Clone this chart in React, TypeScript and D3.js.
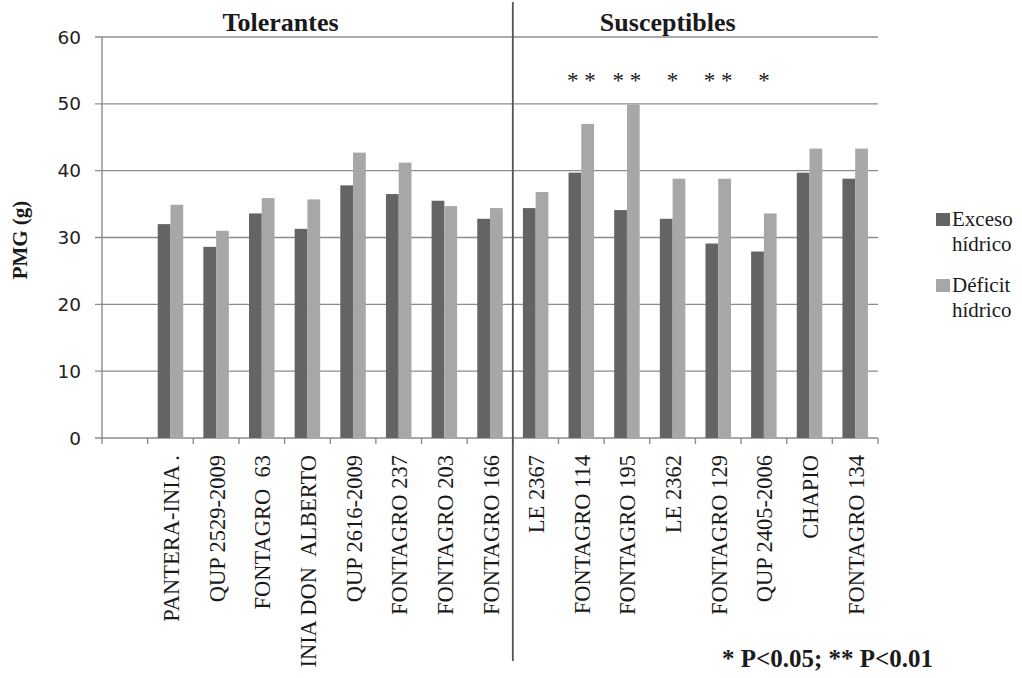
import React from "react";
import * as d3 from "d3";

const categories = [
  "PANTERA-INIA .",
  "QUP 2529-2009",
  "FONTAGRO  63",
  "INIA DON  ALBERTO",
  "QUP 2616-2009",
  "FONTAGRO 237",
  "FONTAGRO 203",
  "FONTAGRO 166",
  "LE 2367",
  "FONTAGRO 114",
  "FONTAGRO 195",
  "LE 2362",
  "FONTAGRO 129",
  "QUP 2405-2006",
  "CHAPIO",
  "FONTAGRO 134",
];
const excesoHidrico = [32.0, 28.6, 33.6, 31.3, 37.8, 36.5, 35.5, 32.8, 34.4, 39.7, 34.1, 32.8, 29.1, 27.9, 39.7, 38.8];
const deficitHidrico = [34.9, 31.0, 35.9, 35.7, 42.7, 41.2, 34.7, 34.4, 36.8, 47.0, 49.9, 38.8, 38.8, 33.6, 43.3, 43.3];
const yTicks = [0, 10, 20, 30, 40, 50, 60];
const significance = [
  { cat: "FONTAGRO 114", text: "* *" },
  { cat: "FONTAGRO 195", text: "* *" },
  { cat: "LE 2362", text: "*" },
  { cat: "FONTAGRO 129", text: "* *" },
  { cat: "QUP 2405-2006", text: "*" },
];
const groups = [
  { name: "Tolerantes", anchor: "INIA DON  ALBERTO" },
  { name: "Susceptibles", anchor: "LE 2362" },
];
const seriesNames = ["Exceso hídrico", "Déficit hídrico"];

const W = 1022;
const H = 678;
const left = 102;
const right = 878;
const top = 37;
const bottom = 438;
const DARK = "#646467";
const LIGHT = "#a7a7a9";
const GRID = "#8c8c8c";
const serif = "'Liberation Serif', 'Times New Roman', serif";
const titleOffsets = [-4, 18];

export default function App() {
  const domain = ["__blank__", ...categories];
  const x = d3.scaleBand<string>().domain(domain).range([left, right]).padding(0);
  const inner = d3
    .scaleBand<string>()
    .domain(["exceso", "deficit"])
    .range([0, x.bandwidth()])
    .paddingInner(0)
    .paddingOuter(0.79);
  const y = d3.scaleLinear().domain([0, 60]).range([bottom, top]);
  const dividerX = x("LE 2367")!;

  return (
    <svg
      width={W}
      height={H}
      style={{ position: "absolute", left: 0, top: 0, background: "#fff" }}
    >
      {yTicks.map((t) => (
        <g key={t}>
          <line x1={left - 7} x2={right} y1={y(t)} y2={y(t)} stroke={GRID} strokeWidth={1.4} />
          <text
            x={81}
            y={y(t)}
            textAnchor="end"
            dominantBaseline="central"
            fontFamily="'DejaVu Sans', Verdana, sans-serif"
            fontSize={18.5}
            fill="#222"
          >
            {t}
          </text>
        </g>
      ))}
      <line x1={left} x2={left} y1={top} y2={bottom} stroke={GRID} strokeWidth={1.4} />
      {domain.map((c) => (
        <line
          key={"t" + c}
          x1={x(c)!}
          x2={x(c)!}
          y1={bottom}
          y2={bottom + 6}
          stroke={GRID}
          strokeWidth={1.4}
        />
      ))}
      <line x1={right} x2={right} y1={bottom} y2={bottom + 6} stroke={GRID} strokeWidth={1.4} />
      {categories.map((c, i) => (
        <g key={"b" + c}>
          <rect
            x={x(c)! + inner("exceso")!}
            y={y(excesoHidrico[i])}
            width={inner.bandwidth()}
            height={bottom - y(excesoHidrico[i])}
            fill={DARK}
          />
          <rect
            x={x(c)! + inner("deficit")!}
            y={y(deficitHidrico[i])}
            width={inner.bandwidth()}
            height={bottom - y(deficitHidrico[i])}
            fill={LIGHT}
          />
        </g>
      ))}
      <line x1={dividerX} x2={dividerX} y1={2} y2={661} stroke="#555" strokeWidth={1.8} />
      {groups.map((g, i) => (
        <text
          key={g.name}
          x={x(g.anchor)! + titleOffsets[i]}
          y={31}
          textAnchor="middle"
          fontFamily={serif}
          fontWeight="bold"
          fontSize={26}
          fill="#1a1a1a"
        >
          {g.name}
        </text>
      ))}
      {significance.map((s) => (
        <text
          key={"s" + s.cat}
          x={x(s.cat)! + x.bandwidth() / 2}
          y={88}
          textAnchor="middle"
          fontFamily={serif}
          fontSize={23}
          fill="#1a1a1a"
        >
          {s.text}
        </text>
      ))}
      {categories.map((c) => {
        const cx = x(c)! + x.bandwidth() / 2 + 1;
        return (
          <text
            key={"l" + c}
            transform={`translate(${cx},${455}) rotate(-90)`}
            textAnchor="end"
            dominantBaseline="central"
            fontFamily={serif}
            fontSize={22.5}
            fill="#1a1a1a"
            style={{ whiteSpace: "pre" }}
          >
            {c}
          </text>
        );
      })}
      <text
        transform={`translate(20,${240}) rotate(-90)`}
        textAnchor="middle"
        dominantBaseline="central"
        fontFamily={serif}
        fontWeight="bold"
        fontSize={21}
        fill="#1a1a1a"
      >
        PMG (g)
      </text>
      {seriesNames.map((n, i) => {
        const [w1, w2] = n.split(" ");
        const by = i === 0 ? 226 : 292;
        return (
          <g key={n}>
            <rect x={936} y={by - 13} width={14} height={13} fill={i === 0 ? DARK : LIGHT} />
            <text x={952} y={by} fontFamily={serif} fontSize={21} fill="#1a1a1a">
              {w1}
            </text>
            <text x={952} y={by + 25} fontFamily={serif} fontSize={21} fill="#1a1a1a">
              {w2}
            </text>
          </g>
        );
      })}
      <text x={722} y={667} fontFamily={serif} fontWeight="bold" fontSize={25} fill="#1a1a1a">
        * P&lt;0.05; ** P&lt;0.01
      </text>
    </svg>
  );
}
